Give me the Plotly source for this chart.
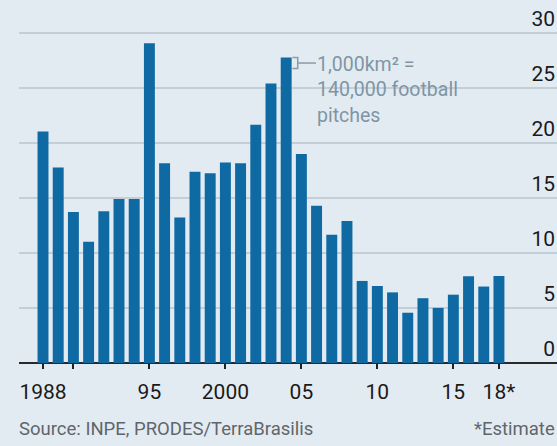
import plotly.graph_objects as go

years = list(range(1988, 2019))
values = [21.05, 17.77, 13.73, 11.03, 13.79, 14.90, 14.90, 29.06, 18.16, 13.23,
          17.38, 17.26, 18.23, 18.17, 21.65, 25.40, 27.77, 19.01, 14.29, 11.65,
          12.91, 7.46, 7.00, 6.42, 4.57, 5.89, 5.01, 6.21, 7.89, 6.95, 7.90]
x_tickvals = [1988, 1990, 1995, 2000, 2005, 2010, 2015, 2018]
x_ticktext = ["1988", "", "95", "2000", "05", "10", "15", "18*"]
y_tickvals = [0, 5, 10, 15, 20, 25, 30]

BG = "#e3ebf2"
BAR = "#0f69a3"
GRID = "#c3ced7"
FONT = "Roboto"

fig = go.Figure(go.Bar(x=years, y=values, marker=dict(color=BAR, line=dict(width=0)),
                       width=0.72, hoverinfo="skip"))

fig.update_layout(
    width=557, height=446,
    margin=dict(l=19, r=0, t=0, b=83, autoexpand=False),
    paper_bgcolor=BG, plot_bgcolor=BG,
    showlegend=False,
    font=dict(family=FONT, color="#1a1a1a"),
    xaxis=dict(range=[1986.42, 2021.82], tickvals=x_tickvals, ticktext=x_ticktext,
               ticks="outside", ticklen=5, tickwidth=1.5, tickcolor="#222",
               ticklabelstandoff=5,
               showgrid=False, zeroline=False, showline=False, automargin=False,
               tickfont=dict(size=21, color="#1a1a1a")),
    yaxis=dict(range=[0, 33], tickvals=y_tickvals, side="right", automargin=False,
               ticklabelposition="inside top", ticklabelstandoff=-1,
               showgrid=True, gridcolor=GRID, gridwidth=1.5,
               zeroline=True, zerolinecolor="#2a2a2a", zerolinewidth=1.5,
               tickfont=dict(size=21, color="#1a1a1a"), ticks=""),
)

# annotation bracket tied to 2004 bar
i04 = years.index(2004)
top = values[i04]
xr = 2004 + 0.36
fig.add_shape(type="path",
              path=f"M {xr+0.05},{top} L {xr+0.4},{top} L {xr+0.4},{top-1} L {xr+0.05},{top-1}",
              line=dict(color="#8a9aa6", width=1.5), xref="x", yref="y")
fig.add_shape(type="line", x0=xr+0.4, x1=xr+1.6, y0=top-0.5, y1=top-0.5,
              line=dict(color="#8a9aa6", width=1.5), xref="x", yref="y")
fig.add_annotation(x=xr + 1.55, y=top + 0.6, xref="x", yref="y", xanchor="left", yanchor="top",
                   text="1,000km² =<br>140,000 football<br>pitches", align="left",
                   showarrow=False, font=dict(size=19.5, color="#7f95a4", family=FONT))

fig.add_annotation(x=-2/538, y=-0.182, xref="paper", yref="paper", xanchor="left", yanchor="middle",
                   text="Source: INPE, PRODES/TerraBrasilis", showarrow=False,
                   font=dict(size=18.5, color="#5f666b", family=FONT))
fig.add_annotation(x=1.0, y=-0.182, xref="paper", yref="paper", xanchor="right", yanchor="middle",
                   text="*Estimate", showarrow=False,
                   font=dict(size=18.5, color="#5f666b", family=FONT))

fig.write_html("out.html", config={"displayModeBar": False},
               post_script="document.body.style.margin='0';document.body.style.background='#e3ebf2';")
